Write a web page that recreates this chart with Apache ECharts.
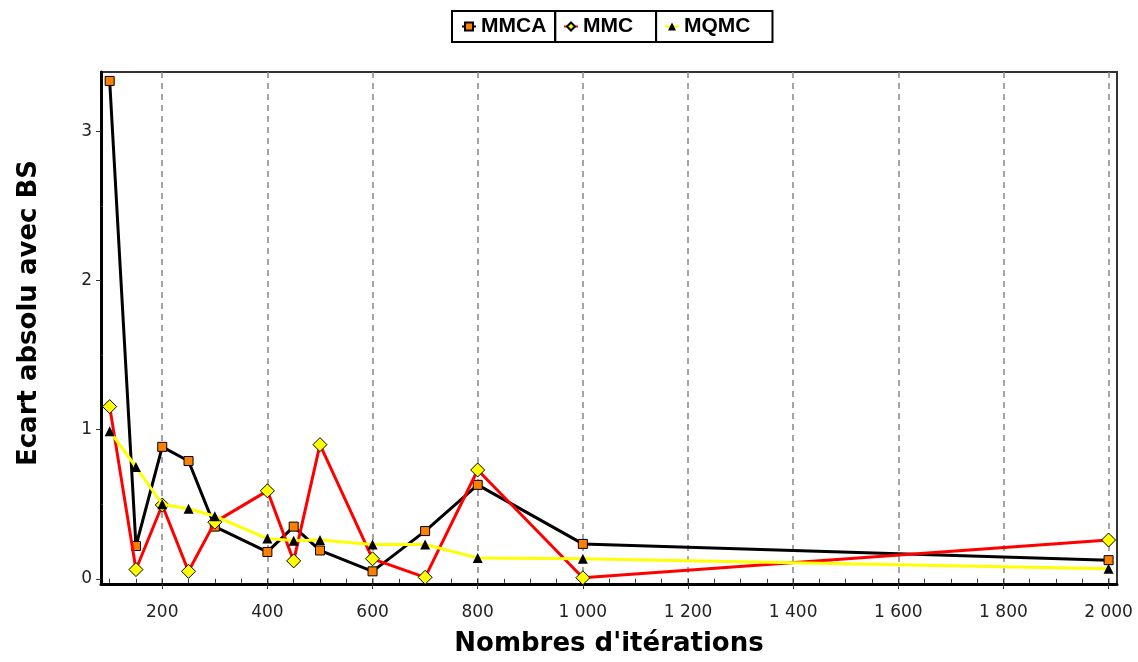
<!DOCTYPE html>
<html>
<head>
<meta charset="utf-8">
<script src="https://cdn.jsdelivr.net/npm/echarts@6/dist/echarts.min.js"></script>
<style>
html,body{margin:0;padding:0;background:#fff;}
#chart{width:1138px;height:662px;}
</style>
</head>
<body>
<div id="chart"></div>
<script>
// ---- data ----
const iterations = [100, 150, 200, 250, 300, 400, 450, 500, 600, 700, 800, 1000, 2000];
const mmca = [3.34, 0.22, 0.885, 0.79, 0.35, 0.18, 0.35, 0.19, 0.05, 0.32, 0.63, 0.234, 0.125];
const mmc  = [1.155, 0.062, 0.495, 0.05, 0.38, 0.59, 0.12, 0.90, 0.134, 0.01, 0.73, 0.007, 0.26];
const mqmc = [0.99, 0.75, 0.50, 0.47, 0.42, 0.27, 0.256, 0.26, 0.23, 0.23, 0.14, 0.134, 0.067];
const xTicks = [200, 400, 600, 800, 1000, 1200, 1400, 1600, 1800, 2000];
const xMinorTicks = [100, 150, 200, 250, 300, 350, 400, 450, 500, 550, 600, 650, 700, 750, 800, 850, 900, 950, 1000, 1050, 1100, 1150, 1200, 1250, 1300, 1350, 1400, 1450, 1500, 1550, 1600, 1650, 1700, 1750, 1800, 1850, 1900, 1950, 2000];
const yTicks = [0, 1, 2, 3];
const yMinorTicks = [0.5, 1.5, 2.5];
const seriesNames = ['MMCA', 'MMC', 'MQMC'];

const pairs = vals => iterations.map((x, i) => [x, vals[i]]);
const fmt = v => {
  const s = String(Math.round(v));
  return s.length > 3 ? s.slice(0, s.length - 3) + ' ' + s.slice(-3) : s;
};

const chart = echarts.init(document.getElementById('chart'));
const legendBase = {
  top: 11,
  orient: 'horizontal',
  borderColor: '#000',
  borderWidth: 2,
  itemWidth: 14,
  itemHeight: 10,
  itemGap: 0,
  textStyle: {fontFamily: 'Liberation Sans', fontWeight: 'bold', fontSize: 21, color: '#000'}
};
chart.setOption({
  animation: false,
  backgroundColor: '#fff',
  legend: [
    Object.assign({}, legendBase, {left: 452, data: [seriesNames[0]], padding: [5, 9, 5, 9]}),
    Object.assign({}, legendBase, {left: 555, data: [seriesNames[1]], padding: [5, 23, 5, 8]}),
    Object.assign({}, legendBase, {left: 656, data: [seriesNames[2]], padding: [5, 22, 5, 8]})
  ],
  grid: {
    left: 101, right: 21, top: 72, bottom: 77,
    show: true, borderColor: '#333', borderWidth: 2, backgroundColor: '#fff'
  },
  xAxis: [{
    type: 'value', min: 83.5, max: 2016,
    name: "Nombres d'itérations", nameLocation: 'middle', nameGap: 47,
    nameTextStyle: {fontFamily: 'DejaVu Sans', fontWeight: 'bold', fontSize: 26, color: '#000'},
    axisLine: {show: true, onZero: false, lineStyle: {color: '#000', width: 3}},
    axisTick: {show: true, customValues: xTicks, length: 5, lineStyle: {color: '#333', width: 1}},
    axisLabel: {customValues: xTicks, formatter: fmt, fontFamily: 'DejaVu Sans', fontSize: 17, color: '#222', margin: 20},
    splitLine: {show: true, lineStyle: {color: '#888', width: 1.5, type: [6, 5]}}
  }, {
    type: 'value', min: 83.5, max: 2016, position: 'bottom',
    axisLine: {show: false},
    axisTick: {show: true, customValues: xMinorTicks, length: 4, lineStyle: {color: '#333', width: 1}},
    axisLabel: {show: false},
    splitLine: {show: false}
  }],
  yAxis: [{
    type: 'value', min: -0.035, max: 3.4,
    name: 'Ecart absolu avec BS', nameLocation: 'middle', nameGap: 59,
    nameTextStyle: {fontFamily: 'DejaVu Sans', fontWeight: 'bold', fontSize: 26, color: '#000', padding: [0, 0, 0, 30]},
    axisLine: {show: true, onZero: false, lineStyle: {color: '#000', width: 3}},
    axisTick: {show: true, customValues: yTicks, length: 5, lineStyle: {color: '#333', width: 1}},
    axisLabel: {customValues: yTicks, fontFamily: 'DejaVu Sans', fontSize: 17, color: '#222', margin: 9},
    splitLine: {show: false}
  }, {
    type: 'value', min: -0.035, max: 3.4, position: 'left',
    axisLine: {show: false},
    axisTick: {show: true, inside: true, customValues: yMinorTicks, length: 2, lineStyle: {color: '#333', width: 1}},
    axisLabel: {show: false},
    splitLine: {show: false}
  }],
  series: [{
    name: seriesNames[0], type: 'line', data: pairs(mmca),
    symbol: 'rect', symbolSize: 9,
    itemStyle: {color: '#ff8000', borderColor: '#000', borderWidth: 1},
    lineStyle: {color: '#000', width: 3}, z: 2
  }, {
    name: seriesNames[1], type: 'line', data: pairs(mmc),
    symbol: 'diamond', symbolSize: 14,
    itemStyle: {color: '#ffff00', borderColor: '#000', borderWidth: 1},
    lineStyle: {color: '#ff0000', width: 3}, z: 3
  }, {
    name: seriesNames[2], type: 'line', data: pairs(mqmc),
    symbol: 'triangle', symbolSize: 10,
    itemStyle: {color: '#000'},
    lineStyle: {color: '#ffff00', width: 3}, z: 4
  }]
});
</script>
</body>
</html>
